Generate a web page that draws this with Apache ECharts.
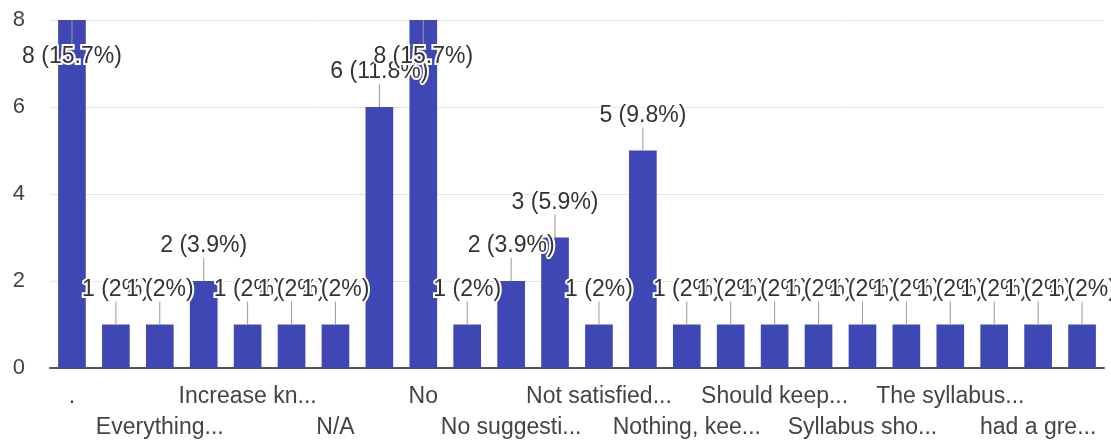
<!DOCTYPE html>
<html>
<head>
<meta charset="utf-8">
<script src="https://cdn.jsdelivr.net/npm/echarts@6/dist/echarts.min.js"></script>
<style>
html,body{margin:0;padding:0;background:#fff;}
#chart{width:1111px;height:444px;}
</style>
</head>
<body>
<div id="chart"></div>
<script>
// Categories (shown text; odd categories are not labelled in the source)
const categories = [
  ".", "All good", "Everything...", "Good", "Increase kn...", "It was good",
  "N/A", "Nil", "No", "No comments", "No suggesti...", "None",
  "Not satisfied...", "Nothing", "Nothing, kee...", "Okay", "Should keep...", "Some more...",
  "Syllabus sho...", "Teaching is...", "The syllabus...", "Very good", "had a gre...", "nothing"
];
const counts = [8, 1, 1, 2, 1, 1, 1, 6, 8, 1, 2, 3, 1, 5, 1, 1, 1, 1, 1, 1, 1, 1, 1, 1];
const yTicks = [0, 2, 4, 6, 8];

const Y_MIN = 0, Y_MAX = 8, Y_INT = 2;
const total = counts.reduce((a, b) => a + b, 0);
const pctLabels = counts.map(v => {
  let p = Math.round(v / total * 1000) / 10;
  return v + ' (' + p + '%)';
});

const FONT = '"Liberation Sans", Arial, sans-serif';
const chart = echarts.init(document.getElementById('chart'));
chart.setOption({
  animation: false,
  backgroundColor: '#ffffff',
  grid: { left: 50, right: 7, top: 20, bottom: 76 },
  xAxis: {
    type: 'category',
    data: categories,
    axisTick: { show: false },
    axisLine: { lineStyle: { color: '#555', width: 2 } },
    axisLabel: {
      interval: 0,
      margin: 13,
      color: '#444',
      fontSize: 23,
      fontFamily: FONT,
      lineHeight: 31,
      verticalAlign: 'top',
      formatter: (v, i) => (i % 2 === 1 ? '' : (i % 4 === 2 ? '\n' + v : v))
    }
  },
  yAxis: {
    type: 'value',
    min: Y_MIN, max: Y_MAX, interval: Y_INT,
    axisLine: { show: false },
    axisTick: { show: false },
    axisLabel: { color: '#444', fontSize: 22, fontFamily: FONT, margin: 25 },
    splitLine: { lineStyle: { color: '#e4e4e4', width: 1 } }
  },
  series: [
    {
      type: 'bar',
      data: counts,
      barWidth: '63%',
      itemStyle: { color: '#3f47b5' }
    },
    {
      type: 'custom',
      data: counts.map((v, i) => [i, v]),
      z: 10,
      renderItem: function (params, api) {
        const idx = api.value(0), val = api.value(1);
        const pt = api.coord([idx, val]);
        const x = pt[0], y = pt[1];
        const inside = val >= Y_MAX;
        const y2 = inside ? y + 26 : y - 23;
        const ty = inside ? y + 37 : y - 35;
        return {
          type: 'group',
          children: [
            { type: 'line', shape: { x1: x, y1: y, x2: x, y2: y2 },
              style: { stroke: '#9a9a9a', lineWidth: 1 } },
            { type: 'text', x: x, y: ty,
              style: { text: pctLabels[idx], fill: '#333', fontSize: 23, fontFamily: FONT,
                       align: 'center', verticalAlign: 'middle',
                       textAlign: 'center', textVerticalAlign: 'middle',
                       stroke: '#fff', lineWidth: 4 } }
          ]
        };
      }
    }
  ]
});
</script>
</body>
</html>
